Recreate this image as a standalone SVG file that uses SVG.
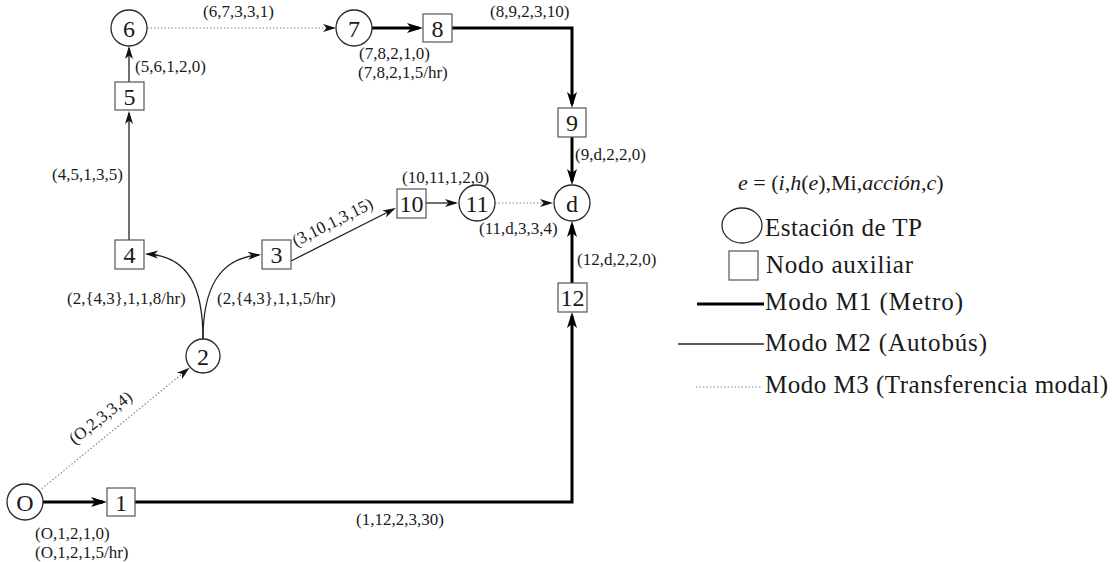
<svg xmlns="http://www.w3.org/2000/svg" width="1119" height="562" viewBox="0 0 1119 562" font-family="'Liberation Serif', 'Times New Roman', serif">
<style>
text{font-family:'Liberation Serif', 'Times New Roman', serif;fill:#1a1a1a}
.n{font-size:24px;text-anchor:middle}
.lb{font-size:17px}
.lg{font-size:25px}
.fm{font-size:22px}
.st{fill:#fff;stroke:#2a2a2a;stroke-width:1.3}
.sq{fill:#fff;stroke:#555;stroke-width:1.2}
.m1{fill:none;stroke:#000;stroke-width:3}
.m2{fill:none;stroke:#222;stroke-width:1.3}
.m3{fill:none;stroke:#888;stroke-width:1.2;stroke-dasharray:1.5,2}
</style>
<defs>
<marker id="ah1" markerUnits="userSpaceOnUse" markerWidth="17" markerHeight="11" refX="12" refY="5" orient="auto" overflow="visible"><path d="M0,0 L16,5 L0,10 L4,5 z" fill="#000"/></marker>
<marker id="ah2" markerUnits="userSpaceOnUse" markerWidth="14" markerHeight="9" refX="11" refY="4" orient="auto" overflow="visible"><path d="M0,0 L13,4 L0,8 L3.5,4 z" fill="#111"/></marker>
</defs>
<rect width="1119" height="562" fill="#fff"/>
<g id="connectors">
<path class="m1" d="M43,502 L103,502" marker-end="url(#ah1)"/>
<path class="m1" d="M135,502 L572,502 L572,316" marker-end="url(#ah1)"/>
<path class="m1" d="M572,283 L572,225" marker-end="url(#ah1)"/>
<path class="m1" d="M572,137 L572,181" marker-end="url(#ah1)"/>
<path class="m1" d="M452,28 L572,28 L572,104" marker-end="url(#ah1)"/>
<path class="m1" d="M372,28 L419,28" marker-end="url(#ah1)"/>
<path class="m3" d="M147,28 L334,28" marker-end="url(#ah2)"/>
<path class="m2" d="M129,82 L129,48" marker-end="url(#ah2)"/>
<path class="m2" d="M129,240 L129,113" marker-end="url(#ah2)"/>
<path class="m2" d="M426,203 L456,203" marker-end="url(#ah2)"/>
<path class="m3" d="M495,203 L551,203" marker-end="url(#ah2)"/>
<path class="m2" d="M291,261 L394,209" marker-end="url(#ah2)"/>
<path class="m2" d="M203,339 C203,290 190,256 147,254" marker-end="url(#ah2)"/>
<path class="m2" d="M203,339 C203,290 218,258 259,255" marker-end="url(#ah2)"/>
<path class="m3" d="M39,491 L188,369" marker-end="url(#ah2)"/>
</g>
<g id="node-O"><circle class="st" cx="25" cy="502" r="18"/><text class="n" x="25" y="511">O</text></g>
<g id="node-1"><rect class="sq" x="107" y="488" width="28" height="28"/><text class="n" x="121" y="511">1</text></g>
<g id="node-2"><circle class="st" cx="203" cy="356" r="17"/><text class="n" x="203" y="365">2</text></g>
<g id="node-3"><rect class="sq" x="262" y="240" width="29" height="29"/><text class="n" x="276.5" y="263">3</text></g>
<g id="node-4"><rect class="sq" x="115" y="240" width="29" height="29"/><text class="n" x="129.5" y="263">4</text></g>
<g id="node-5"><rect class="sq" x="115" y="82" width="29" height="28"/><text class="n" x="129.5" y="105">5</text></g>
<g id="node-6"><circle class="st" cx="129" cy="28" r="18"/><text class="n" x="129" y="37">6</text></g>
<g id="node-7"><circle class="st" cx="354" cy="28" r="18"/><text class="n" x="354" y="37">7</text></g>
<g id="node-8"><rect class="sq" x="423" y="14" width="29" height="28"/><text class="n" x="437.5" y="37">8</text></g>
<g id="node-9"><rect class="sq" x="558" y="108" width="28" height="29"/><text class="n" x="572" y="131">9</text></g>
<g id="node-10"><rect class="sq" x="397" y="189" width="29" height="29"/><text class="n" x="411.5" y="212">10</text></g>
<g id="node-11"><circle class="st" cx="477" cy="203" r="18"/><text class="n" x="477" y="212">11</text></g>
<g id="node-d"><circle class="st" cx="572" cy="203" r="18"/><text class="n" x="572" y="212">d</text></g>
<g id="node-12"><rect class="sq" x="558" y="283" width="29" height="29"/><text class="n" x="572.5" y="306">12</text></g>
<g id="edge-labels">
<text class="lb" x="203" y="17">(6,7,3,3,1)</text>
<text class="lb" x="135" y="72">(5,6,1,2,0)</text>
<text class="lb" x="359" y="59">(7,8,2,1,0)</text>
<text class="lb" x="358" y="78">(7,8,2,1,5/hr)</text>
<text class="lb" x="490" y="17">(8,9,2,3,10)</text>
<text class="lb" x="575" y="160">(9,d,2,2,0)</text>
<text class="lb" x="52" y="180">(4,5,1,3,5)</text>
<text class="lb" x="402" y="183">(10,11,1,2,0)</text>
<text class="lb" x="479" y="234">(11,d,3,3,4)</text>
<text class="lb" x="577" y="265">(12,d,2,2,0)</text>
<text class="lb" x="67" y="304">(2,{4,3},1,1,8/hr)</text>
<text class="lb" x="217" y="304">(2,{4,3},1,1,5/hr)</text>
<text class="lb" x="35" y="539">(O,1,2,1,0)</text>
<text class="lb" x="35" y="558">(O,1,2,1,5/hr)</text>
<text class="lb" x="356" y="525">(1,12,2,3,30)</text>
<text class="lb" text-anchor="middle" x="335" y="227" transform="rotate(-26.6 335 227)">(3,10,1,3,15)</text>
<text class="lb" text-anchor="middle" x="104" y="422" transform="rotate(-38 104 422)">(O,2,3,3,4)</text>
</g>
<g id="legend">
<text class="fm" x="738" y="190"><tspan font-style="italic">e</tspan> = (<tspan font-style="italic">i</tspan>,<tspan font-style="italic">h</tspan>(<tspan font-style="italic">e</tspan>),Mi,<tspan font-style="italic">acción</tspan>,<tspan font-style="italic">c</tspan>)</text>
<ellipse class="st" cx="742" cy="225.5" rx="20" ry="17.5"/>
<text class="lg" x="765" y="236" textLength="157" lengthAdjust="spacing">Estación de TP</text>
<rect class="sq" x="729" y="251" width="29" height="29"/>
<text class="lg" x="766" y="273" textLength="147" lengthAdjust="spacing">Nodo auxiliar</text>
<line class="m1" x1="697" y1="304" x2="764" y2="304"/>
<text class="lg" x="765" y="310" textLength="198" lengthAdjust="spacing">Modo M1 (Metro)</text>
<line class="m2" x1="678" y1="344" x2="764" y2="344"/>
<text class="lg" x="765" y="351" textLength="222" lengthAdjust="spacing">Modo M2 (Autobús)</text>
<line class="m3" x1="696" y1="387" x2="762" y2="387"/>
<text class="lg" x="765" y="393" textLength="343" lengthAdjust="spacing">Modo M3 (Transferencia modal)</text>
</g>
</svg>
